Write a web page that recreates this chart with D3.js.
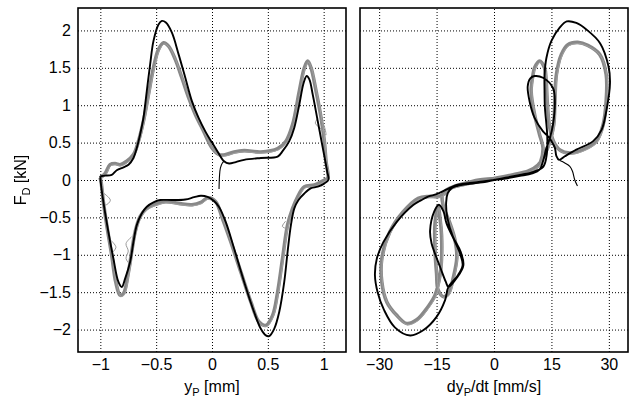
<!DOCTYPE html>
<html>
<head>
<meta charset="utf-8">
<script src="https://cdn.jsdelivr.net/npm/d3@7"></script>
<style>
  body { margin: 0; background: #fff; }
  svg text { font-family: "Liberation Sans", Arial, Helvetica, sans-serif; fill: #000; }
  .grid line { stroke: #000; stroke-width: 1; stroke-dasharray: 1,2; }
  .frame { fill: none; stroke: #000; stroke-width: 1.6; }
  .meas { fill: none; stroke: #888; stroke-width: 3.6; stroke-linejoin: round; }
  .meas2 { fill: none; stroke: #a0a0a0; stroke-width: 1; }
  .glitch { fill: none; stroke: #999; stroke-width: 1; }
  .model { fill: none; stroke: #000; stroke-width: 1.9; stroke-linejoin: round; }
  .start { fill: none; stroke: #000; stroke-width: 1.1; }
  .ylabel { filter: grayscale(1); }
</style>
</head>
<body>
<svg id="chart" width="634" height="398"></svg>
<script>
// tick values
const forceTicks = [-2, -1.5, -1, -0.5, 0, 0.5, 1, 1.5, 2];
const dispTicks = [-1, -0.5, 0, 0.5, 1];
const velTicks = [-30, -15, 0, 15, 30];

// left panel: force [kN] vs displacement [mm]
// measured (grey, several cycles)
const measDisp = [
  [-1.003, 0.03], [-0.958, 0.085], [-0.913, 0.205], [-0.868, 0.22], [-0.823, 0.205], [-0.764, 0.25],
  [-0.703, 0.34], [-0.659, 0.518], [-0.614, 0.787], [-0.569, 1.143], [-0.524, 1.5], [-0.479, 1.747],
  [-0.434, 1.836], [-0.389, 1.79], [-0.329, 1.613], [-0.27, 1.367], [-0.209, 1.1], [-0.149, 0.876],
  [-0.075, 0.653], [0, 0.43], [0.063, 0.34], [0.123, 0.34], [0.198, 0.375], [0.288, 0.393],
  [0.437, 0.375], [0.588, 0.42], [0.662, 0.518], [0.722, 0.741], [0.782, 1.189], [0.827, 1.5],
  [0.857, 1.59], [0.887, 1.5], [0.932, 1.189], [0.977, 0.83], [1.006, 0.518], [1.021, 0.25],
  [1.037, 0.027], [1.006, 0], [0.917, -0.067], [0.827, -0.09], [0.767, -0.224], [0.722, -0.38],
  [0.677, -0.6], [0.632, -1.05], [0.588, -1.497], [0.543, -1.81], [0.482, -1.944], [0.422, -1.9],
  [0.348, -1.631], [0.258, -1.229], [0.168, -0.826], [0.093, -0.513], [0.033, -0.29], [-0.04, -0.24],
  [-0.1, -0.3], [-0.18, -0.33], [-0.299, -0.313], [-0.419, -0.29], [-0.509, -0.326], [-0.584, -0.38],
  [-0.644, -0.49], [-0.688, -0.693], [-0.719, -0.96], [-0.748, -1.229], [-0.793, -1.52], [-0.823, -1.54],
  [-0.862, -1.363], [-0.898, -1.005], [-0.943, -0.6], [-0.973, -0.29], [-0.994, -0.02], [-1.003, 0.03]
];
// short spikes in the measured record
const measDispSpikes = [
  [[-0.985, -0.16], [-0.91, -0.27], [-0.955, -0.335], [-0.99, -0.27]],
  [[-0.91, -0.8], [-0.86, -0.9], [-0.9, -0.98]],
  [[-0.72, -0.76], [-0.77, -0.85], [-0.75, -0.95], [-0.77, -1.05], [-0.74, -1.12]],
  [[0.95, 0.83], [0.925, 0.76], [0.98, 0.68], [1.02, 0.6], [1.0, 0.74], [0.97, 0.8]],
  [[0.66, -0.55], [0.63, -0.62], [0.665, -0.65]]
];
// model (black)
const modelDisp = [
  [-1.0, 0.05], [-0.958, 0.058], [-0.898, 0.07], [-0.853, 0.13], [-0.793, 0.17], [-0.748, 0.205],
  [-0.703, 0.295], [-0.673, 0.43], [-0.644, 0.607], [-0.614, 0.83], [-0.584, 1.19], [-0.554, 1.546],
  [-0.524, 1.86], [-0.479, 2.08], [-0.449, 2.127], [-0.413, 2.105], [-0.359, 1.97], [-0.299, 1.68],
  [-0.239, 1.367], [-0.18, 1.055], [-0.12, 0.83], [-0.06, 0.65], [0, 0.5], [0.048, 0.385],
  [0.108, 0.25], [0.153, 0.22], [0.213, 0.24], [0.288, 0.27], [0.437, 0.295], [0.588, 0.313],
  [0.632, 0.385], [0.692, 0.52], [0.737, 0.7], [0.782, 1.01], [0.821, 1.3], [0.848, 1.39],
  [0.872, 1.345], [0.902, 1.143], [0.947, 0.787], [0.992, 0.43], [1.031, 0.117], [1.043, 0.004],
  [1.007, -0.045], [0.947, -0.09], [0.887, -0.11], [0.827, -0.18], [0.773, -0.27], [0.737, -0.38],
  [0.707, -0.6], [0.677, -0.96], [0.647, -1.363], [0.602, -1.765], [0.557, -1.99], [0.512, -2.087],
  [0.482, -2.078], [0.437, -1.99], [0.377, -1.765], [0.288, -1.363], [0.198, -0.916], [0.123, -0.559],
  [0.063, -0.36], [0.018, -0.28], [-0.04, -0.225], [-0.1, -0.21], [-0.16, -0.23], [-0.239, -0.26],
  [-0.359, -0.268], [-0.464, -0.268], [-0.524, -0.3], [-0.584, -0.357], [-0.629, -0.447], [-0.673, -0.6],
  [-0.703, -0.826], [-0.733, -1.095], [-0.778, -1.318], [-0.808, -1.43], [-0.838, -1.363], [-0.883, -1.05],
  [-0.928, -0.693], [-0.973, -0.29], [-0.997, -0.02], [-1.0, 0.05]
];
const modelDispStart = [[0.063, -0.12], [0.067, 0.05], [0.075, 0.16], [0.093, 0.228], [0.108, 0.25]];

// right panel: force [kN] vs velocity [mm/s]
const measVel = [
  [0, 0.02], [5, 0.07], [9, 0.12], [11.5, 0.2], [13, 0.32], [14.5, 0.5], [15.6, 0.74], [15.9, 1.05],
  [16.3, 1.41], [17.6, 1.68], [19.3, 1.81], [21.9, 1.84], [24.5, 1.8], [27.6, 1.68], [29.3, 1.41],
  [29.3, 1.055], [28.5, 0.74], [26.7, 0.518], [23.3, 0.406], [19.8, 0.36], [17.2, 0.4], [15.5, 0.52],
  [14.4, 0.75], [13.9, 1.05], [13.6, 1.35], [13.2, 1.5], [11.9, 1.59], [10.6, 1.5], [10.2, 1.41],
  [9.7, 1.19], [10.6, 0.876], [11.9, 0.607], [12.8, 0.43], [12.2, 0.25], [11, 0.16], [8, 0.1],
  [4, 0.05], [0, 0.02], [-4, 0.0], [-8, -0.05], [-11, -0.1], [-12.8, -0.18], [-14.5, -0.22],
  [-17, -0.22], [-19.8, -0.245], [-23.7, -0.425], [-27.2, -0.693], [-29.3, -1.05], [-29.3, -1.363],
  [-28, -1.63], [-25.4, -1.81], [-22.8, -1.92], [-20.2, -1.87], [-17.6, -1.72], [-15.4, -1.54],
  [-14.1, -1.27], [-13.7, -1.05], [-13.7, -0.737], [-14.1, -0.513], [-14.6, -0.36], [-15.4, -0.58],
  [-15.4, -0.94], [-15, -1.25], [-14.6, -1.47], [-13.2, -1.56], [-11.9, -1.52], [-10.6, -1.3],
  [-9.7, -1.03], [-10.2, -0.8], [-11.5, -0.58], [-13.2, -0.357], [-13.5, -0.2], [-12, -0.12],
  [-8, -0.06], [-4, -0.02], [0, 0.02]
];
const modelVel = [
  [0, 0], [3, 0.03], [6.8, 0.067], [10.3, 0.11], [12.9, 0.18], [13.8, 0.35], [13.9, 0.6], [13.3, 0.97],
  [13.2, 1.2], [13.2, 1.41], [13.7, 1.635], [15, 1.86], [17.2, 2.04], [19, 2.12], [21.5, 2.1],
  [24.2, 2.01], [27.7, 1.83], [29.9, 1.52], [30.3, 1.3], [29.4, 0.94], [28.1, 0.67], [25.9, 0.52],
  [21.5, 0.406], [18.5, 0.317], [17, 0.27], [16.3, 0.32], [15.9, 0.43], [15, 0.52], [14.1, 0.585],
  [12.8, 0.65], [10.6, 0.83], [9.3, 1.05], [8.8, 1.25], [9.5, 1.36], [10.6, 1.39], [12.8, 1.367],
  [15.4, 1.23], [15.9, 1.05], [15.4, 0.74], [14.6, 0.563], [13.7, 0.43], [12.8, 0.25], [11.9, 0.14],
  [10, 0.09], [6.8, 0.055], [3, 0.02], [0, 0], [-3, -0.02], [-6.3, -0.04], [-9.7, -0.065],
  [-12.5, -0.13], [-15, -0.19], [-17.1, -0.22], [-19, -0.27], [-21.1, -0.335], [-25.4, -0.56],
  [-28.9, -0.83], [-30.6, -1.05], [-31.1, -1.27], [-30.4, -1.5], [-28.7, -1.74], [-25.9, -1.97],
  [-21.9, -2.08], [-18.5, -2.01], [-15, -1.83], [-12.8, -1.61], [-11.9, -1.43], [-9.5, -1.28],
  [-8.2, -1.14], [-8.9, -0.98], [-10.6, -0.78], [-12.4, -0.58], [-13.2, -0.42], [-14.4, -0.33],
  [-15.6, -0.42], [-16.7, -0.68], [-16.3, -0.85], [-15.3, -1.0], [-14.1, -1.16], [-12.6, -1.36],
  [-11.9, -1.43], [-9.6, -1.3], [-8.0, -1.14], [-8.7, -0.96], [-10.8, -0.75], [-12.2, -0.5],
  [-12.5, -0.3], [-12.1, -0.18], [-11.1, -0.11], [-9.7, -0.08], [-6.3, -0.05], [-3, -0.03], [0, 0]
];
const modelVelStart = [[21.8, -0.08], [21.1, 0.0], [20.5, 0.117], [19.8, 0.183], [18.5, 0.228], [17.2, 0.26]];

const svg = d3.select('#chart');
const plotTop = 8, plotBottom = 352;
const fontSize = 16;

const y = d3.scaleLinear().domain([-2.3, 2.3]).range([plotBottom, plotTop]);
const minus = d => (d < 0 ? '\u2212' : '') + Math.abs(d);

function drawPanel(x, ticks, meas, spikes, model, start, showY) {
    const left = x.range()[0], right = x.range()[1];
    const g = svg.append('g');

    // grid lines
    g.append('g')
        .attr('class', 'grid')
        .attr('transform', `translate(0,${plotBottom})`)
        .call(d3.axisBottom(x).tickValues(ticks).tickSize(-(plotBottom - plotTop)).tickFormat(''))
        .call(a => a.select('.domain').remove());
    g.append('g')
        .attr('class', 'grid')
        .attr('transform', `translate(${left},0)`)
        .call(d3.axisLeft(y).tickValues(forceTicks).tickSize(-(right - left)).tickFormat(''))
        .call(a => a.select('.domain').remove());

    const line = d3.line()
        .x(d => x(d[0]))
        .y(d => y(d[1]))
        .curve(d3.curveCatmullRom.alpha(0.5));

    // measured cycles: thick band plus a thin lighter trace slightly off it
    g.append('path').attr('class', 'meas').attr('d', line(meas));
    g.append('path').attr('class', 'meas2').attr('transform', 'translate(0.8,1.2)').attr('d', line(meas));
    spikes.forEach(s => g.append('path').attr('class', 'glitch').attr('d', line(s)));
    g.append('path').attr('class', 'model').attr('d', line(model));
    g.append('path').attr('class', 'start').attr('d', line(start));

    // frame
    g.append('rect').attr('class', 'frame')
        .attr('x', left).attr('y', plotTop)
        .attr('width', right - left).attr('height', plotBottom - plotTop);

    // x tick labels
    g.append('g')
        .attr('transform', `translate(0,${plotBottom})`)
        .call(d3.axisBottom(x).tickValues(ticks).tickSize(0).tickPadding(7).tickFormat(minus))
        .call(a => a.select('.domain').remove())
        .attr('font-size', fontSize)
        .attr('font-family', null);

    if (showY) {
        g.append('g')
            .attr('transform', `translate(${left},0)`)
            .call(d3.axisLeft(y).tickValues(forceTicks).tickSize(0).tickPadding(7).tickFormat(minus))
            .call(a => a.select('.domain').remove())
            .attr('font-size', fontSize)
            .attr('font-family', null);
    }
}

const xDisp = d3.scaleLinear().domain([-1.2, 1.2]).range([78, 346]);
const xVel = d3.scaleLinear().domain([-35, 35]).range([360, 628]);

drawPanel(xDisp, dispTicks, measDisp, measDispSpikes, modelDisp, modelDispStart, true);
drawPanel(xVel, velTicks, measVel, [], modelVel, modelVelStart, false);

// axis labels
function subLabel(t, parts) {
    t.attr('font-size', fontSize).attr('fill', '#000');
    t.append('tspan').text(parts[0]);
    t.append('tspan').attr('font-size', 11).attr('dy', 4).text(parts[1]);
    t.append('tspan').attr('dy', -4).text(parts[2]);
}

subLabel(svg.append('text')
    .attr('text-anchor', 'middle')
    .attr('x', 212)
    .attr('y', 392), ['y', 'P', ' [mm]']);

subLabel(svg.append('text')
    .attr('text-anchor', 'middle')
    .attr('x', 494)
    .attr('y', 392), ['dy', 'P', '/dt [mm/s]']);

subLabel(svg.append('text')
    .attr('class', 'ylabel')
    .attr('text-anchor', 'middle')
    .attr('transform', 'translate(26,180) rotate(-90)'), ['F', 'D', ' [kN]']);
</script>
</body>
</html>
